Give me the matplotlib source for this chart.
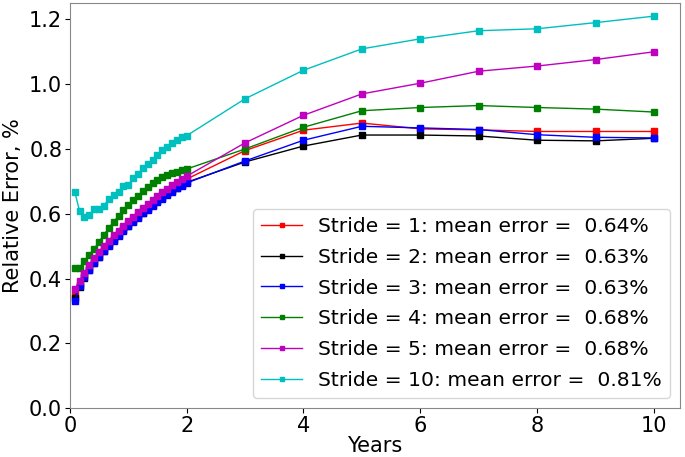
import numpy as np
import matplotlib
matplotlib.use("Agg")
import matplotlib.pyplot as plt

# x: monthly steps up to 2 years, then yearly to 10
years = [m / 12 for m in range(1, 25)] + [3, 4, 5, 6, 7, 8, 9, 10]

stride1 = [0.349, 0.382, 0.410, 0.433, 0.455, 0.474, 0.492, 0.509, 0.525, 0.540, 0.555, 0.569,
           0.583, 0.596, 0.609, 0.622, 0.634, 0.646, 0.657, 0.668, 0.679, 0.689, 0.698, 0.707,
           0.795, 0.858, 0.880, 0.862, 0.859, 0.854, 0.854, 0.854]
stride2 = [0.340, 0.375, 0.403, 0.427, 0.449, 0.468, 0.486, 0.503, 0.519, 0.534, 0.549, 0.563,
           0.577, 0.590, 0.603, 0.615, 0.627, 0.638, 0.649, 0.660, 0.670, 0.680, 0.689, 0.697,
           0.760, 0.809, 0.843, 0.843, 0.840, 0.827, 0.825, 0.833]
stride3 = [0.331, 0.378, 0.404, 0.426, 0.447, 0.466, 0.484, 0.501, 0.517, 0.532, 0.547, 0.561,
           0.575, 0.588, 0.601, 0.613, 0.625, 0.636, 0.647, 0.658, 0.668, 0.678, 0.687, 0.695,
           0.763, 0.827, 0.870, 0.865, 0.860, 0.844, 0.836, 0.834]
stride4 = [0.431, 0.434, 0.455, 0.474, 0.492, 0.514, 0.535, 0.556, 0.575, 0.593, 0.611, 0.626,
           0.642, 0.656, 0.669, 0.682, 0.694, 0.704, 0.712, 0.719, 0.725, 0.730, 0.734, 0.738,
           0.800, 0.867, 0.918, 0.928, 0.934, 0.928, 0.923, 0.914]
stride5 = [0.367, 0.393, 0.418, 0.441, 0.462, 0.482, 0.500, 0.517, 0.533, 0.548, 0.563, 0.577,
           0.591, 0.605, 0.618, 0.631, 0.643, 0.655, 0.666, 0.677, 0.688, 0.698, 0.707, 0.716,
           0.819, 0.904, 0.970, 1.003, 1.040, 1.056, 1.076, 1.100]
stride10 = [0.668, 0.608, 0.589, 0.596, 0.614, 0.614, 0.624, 0.647, 0.657, 0.668, 0.686, 0.690,
            0.709, 0.724, 0.740, 0.755, 0.765, 0.781, 0.796, 0.807, 0.817, 0.827, 0.836, 0.841,
            0.955, 1.043, 1.109, 1.140, 1.165, 1.171, 1.190, 1.210]

strides = [1, 2, 3, 4, 5, 10]
mean_errors = [0.64, 0.63, 0.63, 0.68, 0.68, 0.81]
series = [stride1, stride2, stride3, stride4, stride5, stride10]
colors = ["r", "k", "b", "g", "m", "c"]

fig, ax = plt.subplots(figsize=(6.85, 4.57), dpi=100)
fig.subplots_adjust(left=0.102, right=0.993, top=0.993, bottom=0.107)

for s, me, vals, c in zip(strides, mean_errors, series, colors):
    ax.plot(years, vals, "-s", color=c, lw=1, ms=4,
            label=f"Stride = {s}: mean error =  {me:.2f}%")

ax.set_xlim(0, 10.45)
ax.set_ylim(0, 1.25)
ax.set_xticks([0, 2, 4, 6, 8, 10])
ax.set_yticks([0.0, 0.2, 0.4, 0.6, 0.8, 1.0, 1.2])
ax.tick_params(labelsize=15, pad=2)
ax.set_xlabel("Years", fontsize=15, labelpad=0)
ax.set_ylabel("Relative Error, %", fontsize=15)
for sp in ax.spines.values():
    sp.set_color("#888888")
ax.legend(loc="lower right", fontsize=14.6, markerscale=0.8, labelspacing=0.58)

plt.savefig("out.png", dpi=100)
